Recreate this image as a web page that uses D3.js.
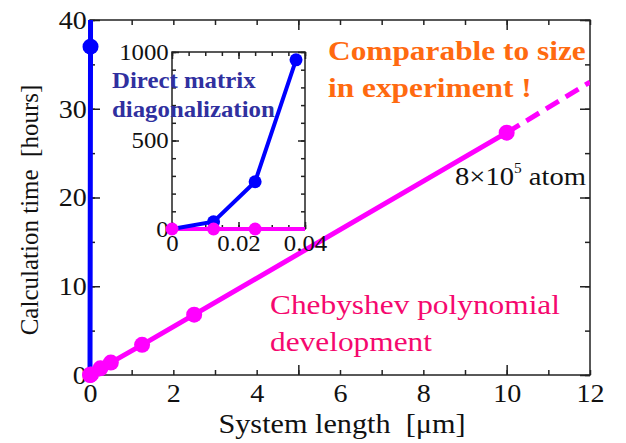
<!DOCTYPE html>
<html>
<head>
<meta charset="utf-8">
<script src="https://cdn.jsdelivr.net/npm/d3@7/dist/d3.min.js"></script>
</head>
<body style="margin:0">
<svg width="626" height="443"></svg>
<script>
// system length [um] vs calculation time [hours]
var chebyLength = [0, 0.0125, 0.025, 0.25, 0.5, 1.25, 2.5, 10];
var chebyTime   = [0, 0.03, 0.07, 0.75, 1.4, 3.4, 6.8, 27.3];
var chebyExtraLength = [10, 12];
var chebyExtraTime   = [27.3, 33.0];

var directLength    = [0, 0.0125, 0.025, 0.0373];
var directTimeMain  = [0, 37, 267, 956];
var directTimeInset = [0, 41, 267, 956];

var xTickLabels = [0, 2, 4, 6, 8, 10, 12];
var yTickLabels = [0, 10, 20, 30, 40];
var insetXLabels = [0, 0.02, 0.04];
var insetYLabels = [0, 500, 1000];

var fontName = "'Liberation Serif'";

var svg = d3.select("svg").style("font-family", fontName);
svg.append("rect").attr("width", 626).attr("height", 443).attr("fill", "#fff");

var x = d3.scaleLinear().domain([0, 12]).range([90, 590]);
var y = d3.scaleLinear().domain([0, 40]).range([375, 20]);

var pink = "#ff00ff", blue = "#0000ff";

svg.append("clipPath").attr("id", "mainClip").append("rect")
    .attr("x", 80).attr("y", 20).attr("width", 510).attr("height", 365);

function ticks(axisFn, scale, vals, size, tr) {
  var g = svg.append("g").attr("transform", tr)
    .call(axisFn(scale).tickValues(vals).tickSize(size).tickFormat(""));
  g.select(".domain").remove();
  g.selectAll("line").attr("stroke", "#222").attr("stroke-width", 1.5);
}

// the source figure's lettering is a bit wider than Times, so stretch it sideways
function labels(g, size) {
  g.select(".domain").remove();
  g.attr("font-family", null).attr("font-size", null);
  g.selectAll("text").attr("font-size", size).attr("fill", "#111")
    .style("font-family", fontName).attr("transform", "scale(1.08,1)");
}

function wideText(x0, k) {
  return svg.append("g")
    .attr("transform", "translate(" + x0 + ",0) scale(" + k + ",1) translate(" + (-x0) + ",0)")
    .append("text").style("font-family", fontName);
}

// main frame
svg.append("rect").attr("x", 90).attr("y", 20).attr("width", 500).attr("height", 355)
    .attr("fill", "none").attr("stroke", "#222").attr("stroke-width", 1.5);

var minorX = d3.range(0, 13), majorX = [0, 5, 10];
var minorY = d3.range(0, 41, 5), majorY = [0, 10, 20, 30, 40];
ticks(d3.axisBottom, x, minorX, -5, "translate(0,375)");
ticks(d3.axisBottom, x, majorX, -10, "translate(0,375)");
ticks(d3.axisTop, x, minorX, -5, "translate(0,20)");
ticks(d3.axisTop, x, majorX, -10, "translate(0,20)");
ticks(d3.axisLeft, y, minorY, -5, "translate(90,0)");
ticks(d3.axisLeft, y, majorY, -10, "translate(90,0)");
ticks(d3.axisRight, y, minorY, -5, "translate(590,0)");
ticks(d3.axisRight, y, majorY, -10, "translate(590,0)");

labels(svg.append("g").attr("transform", "translate(0,375)")
  .call(d3.axisBottom(x).tickValues(xTickLabels).tickSize(0).tickPadding(9)), 26);
labels(svg.append("g").attr("transform", "translate(90,0)")
  .call(d3.axisLeft(y).tickValues(yTickLabels).tickSize(0).tickPadding(3)), 26);

// main series
var line = d3.line().x(function(d) { return x(d[0]); }).y(function(d) { return y(d[1]); });
var cheby = chebyLength.map(function(d, i) { return [d, chebyTime[i]]; });
var chebyExtra = chebyExtraLength.map(function(d, i) { return [d, chebyExtraTime[i]]; });
var directMain = directLength.map(function(d, i) { return [d, directTimeMain[i]]; });

var plot = svg.append("g").attr("clip-path", "url(#mainClip)");
plot.append("path").datum(directMain).attr("d", line)
  .attr("fill", "none").attr("stroke", blue).attr("stroke-width", 5);
plot.append("path").datum(chebyExtra).attr("d", line)
  .attr("fill", "none").attr("stroke", pink).attr("stroke-width", 5)
  .attr("stroke-dasharray", "15,8");
plot.append("path").datum(cheby).attr("d", line)
  .attr("fill", "none").attr("stroke", pink).attr("stroke-width", 5);

svg.append("g").selectAll("circle")
  .data(directMain.filter(function(d) { return d[1] > 0 && d[1] <= 40; }))
  .enter().append("circle")
  .attr("cx", function(d) { return x(d[0]); }).attr("cy", function(d) { return y(d[1]); })
  .attr("r", 8).attr("fill", blue);
svg.append("g").selectAll("circle")
  .data(cheby).enter().append("circle")
  .attr("cx", function(d) { return x(d[0]); }).attr("cy", function(d) { return y(d[1]); })
  .attr("r", 8).attr("fill", pink);

// inset
var ix = d3.scaleLinear().domain([0, 0.04]).range([172, 305]);
var iy = d3.scaleLinear().domain([0, 1000]).range([229, 52]);

svg.append("rect").attr("x", 172).attr("y", 52).attr("width", 133).attr("height", 177)
  .attr("fill", "#fff").attr("stroke", "#222").attr("stroke-width", 1.5);

var iMinorX = d3.range(0, 0.0401, 0.005), iMajorX = [0, 0.02, 0.04];
var iMinorY = d3.range(0, 1001, 100), iMajorY = [0, 500, 1000];
ticks(d3.axisBottom, ix, iMinorX, -4, "translate(0,229)");
ticks(d3.axisBottom, ix, iMajorX, -7, "translate(0,229)");
ticks(d3.axisTop, ix, iMinorX, -4, "translate(0,52)");
ticks(d3.axisTop, ix, iMajorX, -7, "translate(0,52)");
ticks(d3.axisLeft, iy, iMinorY, -4, "translate(172,0)");
ticks(d3.axisLeft, iy, iMajorY, -7, "translate(172,0)");
ticks(d3.axisRight, iy, iMinorY, -4, "translate(305,0)");
ticks(d3.axisRight, iy, iMajorY, -7, "translate(305,0)");

labels(svg.append("g").attr("transform", "translate(0,229)")
  .call(d3.axisBottom(ix).tickValues(insetXLabels).tickSize(0).tickPadding(6)
    .tickFormat(function(d) { return d === 0 ? "0" : d3.format(".2f")(d); })), 23);
labels(svg.append("g").attr("transform", "translate(172,0)")
  .call(d3.axisLeft(iy).tickValues(insetYLabels).tickSize(0).tickPadding(3)
    .tickFormat(d3.format("d"))), 23);

svg.append("clipPath").attr("id", "insetClip").append("rect")
  .attr("x", 160).attr("y", 52).attr("width", 145).attr("height", 190);

var iline = d3.line().x(function(d) { return ix(d[0]); }).y(function(d) { return iy(d[1]); });
var directInset = directLength.map(function(d, i) { return [d, directTimeInset[i]]; });
var inset = svg.append("g").attr("clip-path", "url(#insetClip)");
inset.append("path").datum(cheby).attr("d", iline)
  .attr("fill", "none").attr("stroke", pink).attr("stroke-width", 4);
inset.append("path").datum(directInset).attr("d", iline)
  .attr("fill", "none").attr("stroke", blue).attr("stroke-width", 4);
svg.append("g").selectAll("circle")
  .data(directInset.filter(function(d) { return d[1] > 0; })).enter().append("circle")
  .attr("cx", function(d) { return ix(d[0]); }).attr("cy", function(d) { return iy(d[1]); })
  .attr("r", 6.5).attr("fill", blue);
svg.append("g").selectAll("circle")
  .data(cheby.filter(function(d) { return d[0] <= 0.04; })).enter().append("circle")
  .attr("cx", function(d) { return ix(d[0]); }).attr("cy", function(d) { return iy(d[1]); })
  .attr("r", 6.5).attr("fill", pink);

// axis titles
wideText(342, 1.12).attr("x", 342).attr("y", 433).attr("text-anchor", "middle")
  .attr("font-size", 27).attr("fill", "#111")
  .text("System length\u00a0\u00a0[\u03bcm]");
svg.append("text").attr("transform", "translate(38,210) rotate(-90)")
  .attr("text-anchor", "middle").style("font-family", fontName)
  .attr("font-size", 25).attr("fill", "#111")
  .text("Calculation time\u00a0\u00a0[hours]");

// annotations
var dm = wideText(112, 1.08).attr("font-size", 23)
  .attr("font-weight", "bold").attr("fill", "#30309f");
dm.append("tspan").attr("x", 112).attr("y", 88).text("Direct matrix");
dm.append("tspan").attr("x", 112).attr("y", 117).text("diagonalization");

var cs = wideText(328, 1.12).attr("font-size", 28)
  .attr("font-weight", "bold").attr("fill", "#ff6a10");
cs.append("tspan").attr("x", 328).attr("y", 60).text("Comparable to size");
cs.append("tspan").attr("x", 328).attr("y", 97).text("in experiment !");

var at = wideText(455, 1.1).attr("x", 455).attr("y", 185)
  .attr("font-size", 26).attr("fill", "#111");
at.append("tspan").text("8\u00d710");
at.append("tspan").attr("dy", -12).attr("font-size", 14).text("5");
at.append("tspan").attr("dy", 12).text("\u00a0atom");

var ch = wideText(270, 1.12).attr("font-size", 28).attr("fill", "#f5086e");
ch.append("tspan").attr("x", 270).attr("y", 314).text("Chebyshev polynomial");
ch.append("tspan").attr("x", 270).attr("y", 351).text("development");
</script>
</body>
</html>
